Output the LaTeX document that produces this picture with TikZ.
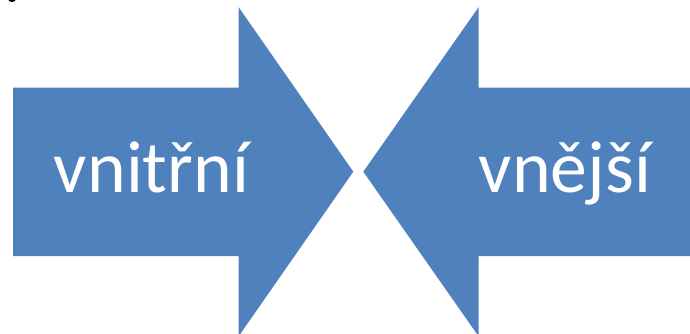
\documentclass[tikz,border=0pt]{standalone}
\usepackage{fontspec}
\setmainfont{Carlito}
\definecolor{arrowblue}{RGB}{79,129,189}

\begin{document}
\begin{tikzpicture}[x=1bp, y=1bp, every node/.style={font=\fontsize{74}{74}\selectfont}]
\tikzset{
    bigarrow/.style={fill=arrowblue, draw=none},
    arrowlabel/.style={text=white, inner sep=0pt, anchor=base}
}
\useasboundingbox (0,0) rectangle (690,333);
\begin{scope}
\clip (0,0) rectangle (690,333);
\fill[black] (12,334) ellipse (4 and 3);

\fill[bigarrow] (13,77) -- (238.5,77) -- (238.5,-3.5) -- (353.3,161.3)
    -- (238.5,326) -- (238.5,245.5) -- (13,245.5) -- cycle;
\fill[bigarrow] (690,77) -- (478.7,77) -- (478.7,-3.5) -- (363.3,161.3)
    -- (478.7,326) -- (478.7,245.5) -- (690,245.5) -- cycle;
\end{scope}

\node[arrowlabel] (inner) at (151.5,140.3) {vnitřní};
\node[arrowlabel] (outer) at (565,140.3) {vnější};

\end{tikzpicture}
\end{document}
